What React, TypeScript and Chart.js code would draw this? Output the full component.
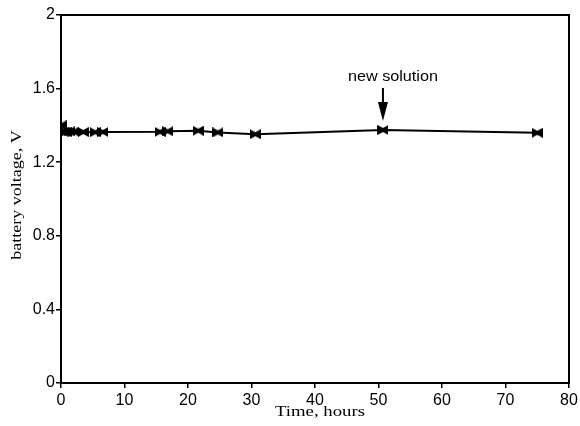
import React, { useEffect, useRef } from "react";
import { Chart, registerables } from "chart.js";

Chart.register(...registerables);

// Elapsed time of each reading, hours
const timeHours = [0, 0.3, 0.8, 1.3, 2, 3.5, 5.4, 6.6, 15.6, 16.8, 21.6, 24.7, 30.6, 50.7, 75];
// Battery voltage at each reading, V
const voltage = [1.4, 1.365, 1.365, 1.367, 1.366, 1.364, 1.363, 1.364, 1.365, 1.368, 1.371, 1.362, 1.352, 1.375, 1.36];

const xTicks = [0, 10, 20, 30, 40, 50, 60, 70, 80];
const yTicks = [0, 0.4, 0.8, 1.2, 1.6, 2];

const annotationTime = 50.7;
const annotationText = "new solution";
const xTitle = "Time, hours";
const yTitle = "battery voltage, V";

// bow-tie marker: two filled triangles meeting at the point
function makeBowtie(): HTMLCanvasElement {
  const c = document.createElement("canvas");
  const w = 11;
  const h = 10;
  c.width = w;
  c.height = h;
  const ctx = c.getContext("2d")!;
  ctx.fillStyle = "#000";
  ctx.beginPath();
  ctx.moveTo(0, 0);
  ctx.lineTo(w / 2, h / 2 - 2);
  ctx.lineTo(w, 0);
  ctx.lineTo(w, h);
  ctx.lineTo(w / 2, h / 2 + 2);
  ctx.lineTo(0, h);
  ctx.closePath();
  ctx.fill();
  return c;
}

function drawStretchedText(
  ctx: CanvasRenderingContext2D,
  text: string,
  x: number,
  y: number,
  font: string,
  sx: number,
  rotate = 0
) {
  ctx.save();
  ctx.translate(x, y);
  if (rotate) ctx.rotate(rotate);
  ctx.scale(sx, 1);
  ctx.font = font;
  ctx.fillStyle = "#000";
  ctx.textAlign = "center";
  ctx.textBaseline = "middle";
  ctx.fillText(text, 0, 0);
  ctx.restore();
}

const framePlugin = {
  id: "frameAndNotes",
  afterDraw(chart: any) {
    const { ctx, chartArea, scales } = chart;
    const { left, right, top, bottom } = chartArea;
    ctx.save();
    // closing top and right edges of the box
    ctx.strokeStyle = "#000";
    ctx.lineWidth = 2;
    ctx.beginPath();
    ctx.moveTo(left - 1, top);
    ctx.lineTo(right, top);
    ctx.lineTo(right, bottom + 1);
    ctx.stroke();

    // arrow and label marking the fresh solution
    const idx = timeHours.indexOf(annotationTime);
    const ax = scales.x.getPixelForValue(annotationTime);
    const py = scales.y.getPixelForValue(voltage[idx]);
    const tipY = py - 9;
    ctx.fillStyle = "#000";
    ctx.fillRect(ax - 1, tipY - 33, 2, 16);
    ctx.beginPath();
    ctx.moveTo(ax - 5, tipY - 19);
    ctx.lineTo(ax + 5, tipY - 19);
    ctx.lineTo(ax, tipY);
    ctx.closePath();
    ctx.fill();
    drawStretchedText(ctx, annotationText, ax + 10, tipY - 44, "15px 'Liberation Sans', Arial, sans-serif", 1.08);

    // axis titles
    drawStretchedText(ctx, xTitle, (left + right) / 2 + 5, 412, "15px 'Liberation Serif', 'Times New Roman', serif", 1.25);
    drawStretchedText(ctx, yTitle, 17, (top + bottom) / 2 - 4, "15px 'Liberation Serif', 'Times New Roman', serif", 1.2, -Math.PI / 2);
    ctx.restore();
  },
};

export default function App() {
  const canvasRef = useRef<HTMLCanvasElement | null>(null);

  useEffect(() => {
    document.body.style.margin = "0";
    const canvas = canvasRef.current!;
    const bowtie = makeBowtie();
    const tickFont = { family: "'Liberation Sans', Arial, sans-serif", size: 16 };
    const chart = new Chart(canvas, {
      type: "line",
      data: {
        datasets: [
          {
            data: timeHours.map((t, i) => ({ x: t, y: voltage[i] })),
            borderColor: "#000",
            borderWidth: 2,
            pointStyle: bowtie as any,
            pointRadius: 5,
            tension: 0,
          },
        ],
      },
      options: {
        animation: false,
        responsive: false,
        devicePixelRatio: 1,
        layout: { padding: { left: 0, top: 15, right: 11, bottom: 0 } },
        plugins: { legend: { display: false }, tooltip: { enabled: false } },
        scales: {
          x: {
            type: "linear",
            min: 0,
            max: 80,
            afterFit: (s: any) => {
              s.height = 43;
              s.paddingLeft = 0;
              s.paddingRight = 0;
            },
            afterBuildTicks: (s: any) => {
              s.ticks = xTicks.map((v) => ({ value: v }));
            },
            ticks: {
              color: "#000",
              font: tickFont,
              padding: 3,
              maxRotation: 0,
              callback: (v: any) => String(v),
            },
            grid: {
              display: true,
              drawOnChartArea: false,
              drawTicks: true,
              tickLength: 5,
              color: "#000",
              lineWidth: 1.5,
            },
            border: { display: true, color: "#000", width: 2 },
          },
          y: {
            type: "linear",
            min: 0,
            max: 2,
            afterFit: (s: any) => {
              s.width = 61;
              s.paddingTop = 0;
              s.paddingBottom = 0;
            },
            afterBuildTicks: (s: any) => {
              s.ticks = yTicks.map((v) => ({ value: v }));
            },
            ticks: {
              color: "#000",
              font: tickFont,
              padding: 1,
              callback: (v: any) => String(Number(Number(v).toFixed(1))),
            },
            grid: {
              display: true,
              drawOnChartArea: false,
              drawTicks: true,
              tickLength: 5,
              color: "#000",
              lineWidth: 1.5,
            },
            border: { display: true, color: "#000", width: 2 },
          },
        },
      },
      plugins: [framePlugin],
    });
    return () => chart.destroy();
  }, []);

  return <canvas ref={canvasRef} width={580} height={426} style={{ display: "block" }} />;
}
